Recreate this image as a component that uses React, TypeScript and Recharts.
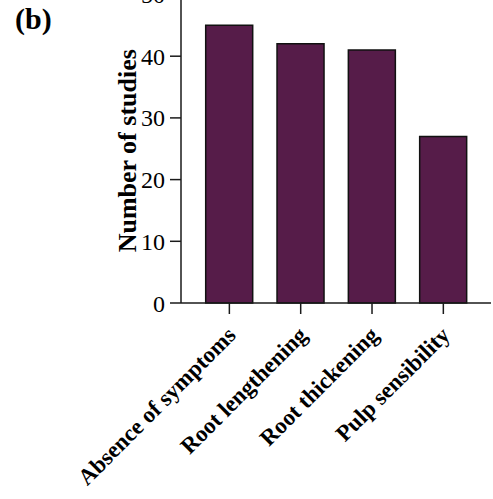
import { BarChart, Bar, XAxis, YAxis, Label } from "recharts";

const categories = ["Absence of symptoms", "Root lengthening", "Root thickening", "Pulp sensibility"];
const studies = [45, 42, 41, 27];
const yTicks = [0, 10, 20, 30, 40, 50];

const data = categories.map((name, i) => ({ name, count: studies[i] }));

const FONT = '"Liberation Serif", "Times New Roman", serif';
const PURPLE = "#561c49";
const AXIS = "#1a1a1a";

function AngledTick({ x, y, payload }: any) {
  return (
    <g transform={`translate(${x},${y})`}>
      <text
        textAnchor="end"
        transform="rotate(-45)"
        dy={20}
        dx={-9}
        fontFamily={FONT}
        fontWeight="bold"
        fontSize={23}
        fill="#000"
      >
        {payload.value}
      </text>
    </g>
  );
}

export default function App() {
  return (
    <div style={{ position: "absolute", left: 0, top: -40, width: 493, height: 560 }}>
      <div
        style={{
          position: "absolute",
          left: 15,
          top: 44,
          fontFamily: FONT,
          fontWeight: "bold",
          fontSize: 30,
          lineHeight: 1,
        }}
      >
        (b)
      </div>
      <BarChart
        width={493}
        height={560}
        data={data}
        margin={{ top: 34.5, right: 2, bottom: 17, left: 0 }}
      >
        <XAxis
          dataKey="name"
          interval={0}
          height={200}
          padding={{ left: 12.7, right: 12 }}
          tickSize={11}
          tickMargin={2}
          tick={<AngledTick />}
          stroke={AXIS}
          strokeWidth={1.5}
        />
        <YAxis
          domain={[0, 50]}
          ticks={yTicks}
          width={181}
          tickSize={11}
          tickMargin={5}
          stroke={AXIS}
          strokeWidth={1.5}
          tick={{ fontFamily: FONT, fontSize: 24, fill: "#000" }}
        >
          <Label
            value="Number of studies"
            angle={-90}
            position="center"
            dx={36.5}
            dy={2}
            style={{ fontFamily: FONT, fontWeight: "bold", fontSize: 26, fill: "#000" }}
          />
        </YAxis>
        <YAxis yAxisId="r" orientation="right" width={0} tick={false} tickLine={false} stroke={AXIS} strokeWidth={1.5} />
        <Bar dataKey="count" fill={PURPLE} stroke="#111" strokeWidth={1.5} barSize={47} isAnimationActive={false} />
      </BarChart>
    </div>
  );
}
